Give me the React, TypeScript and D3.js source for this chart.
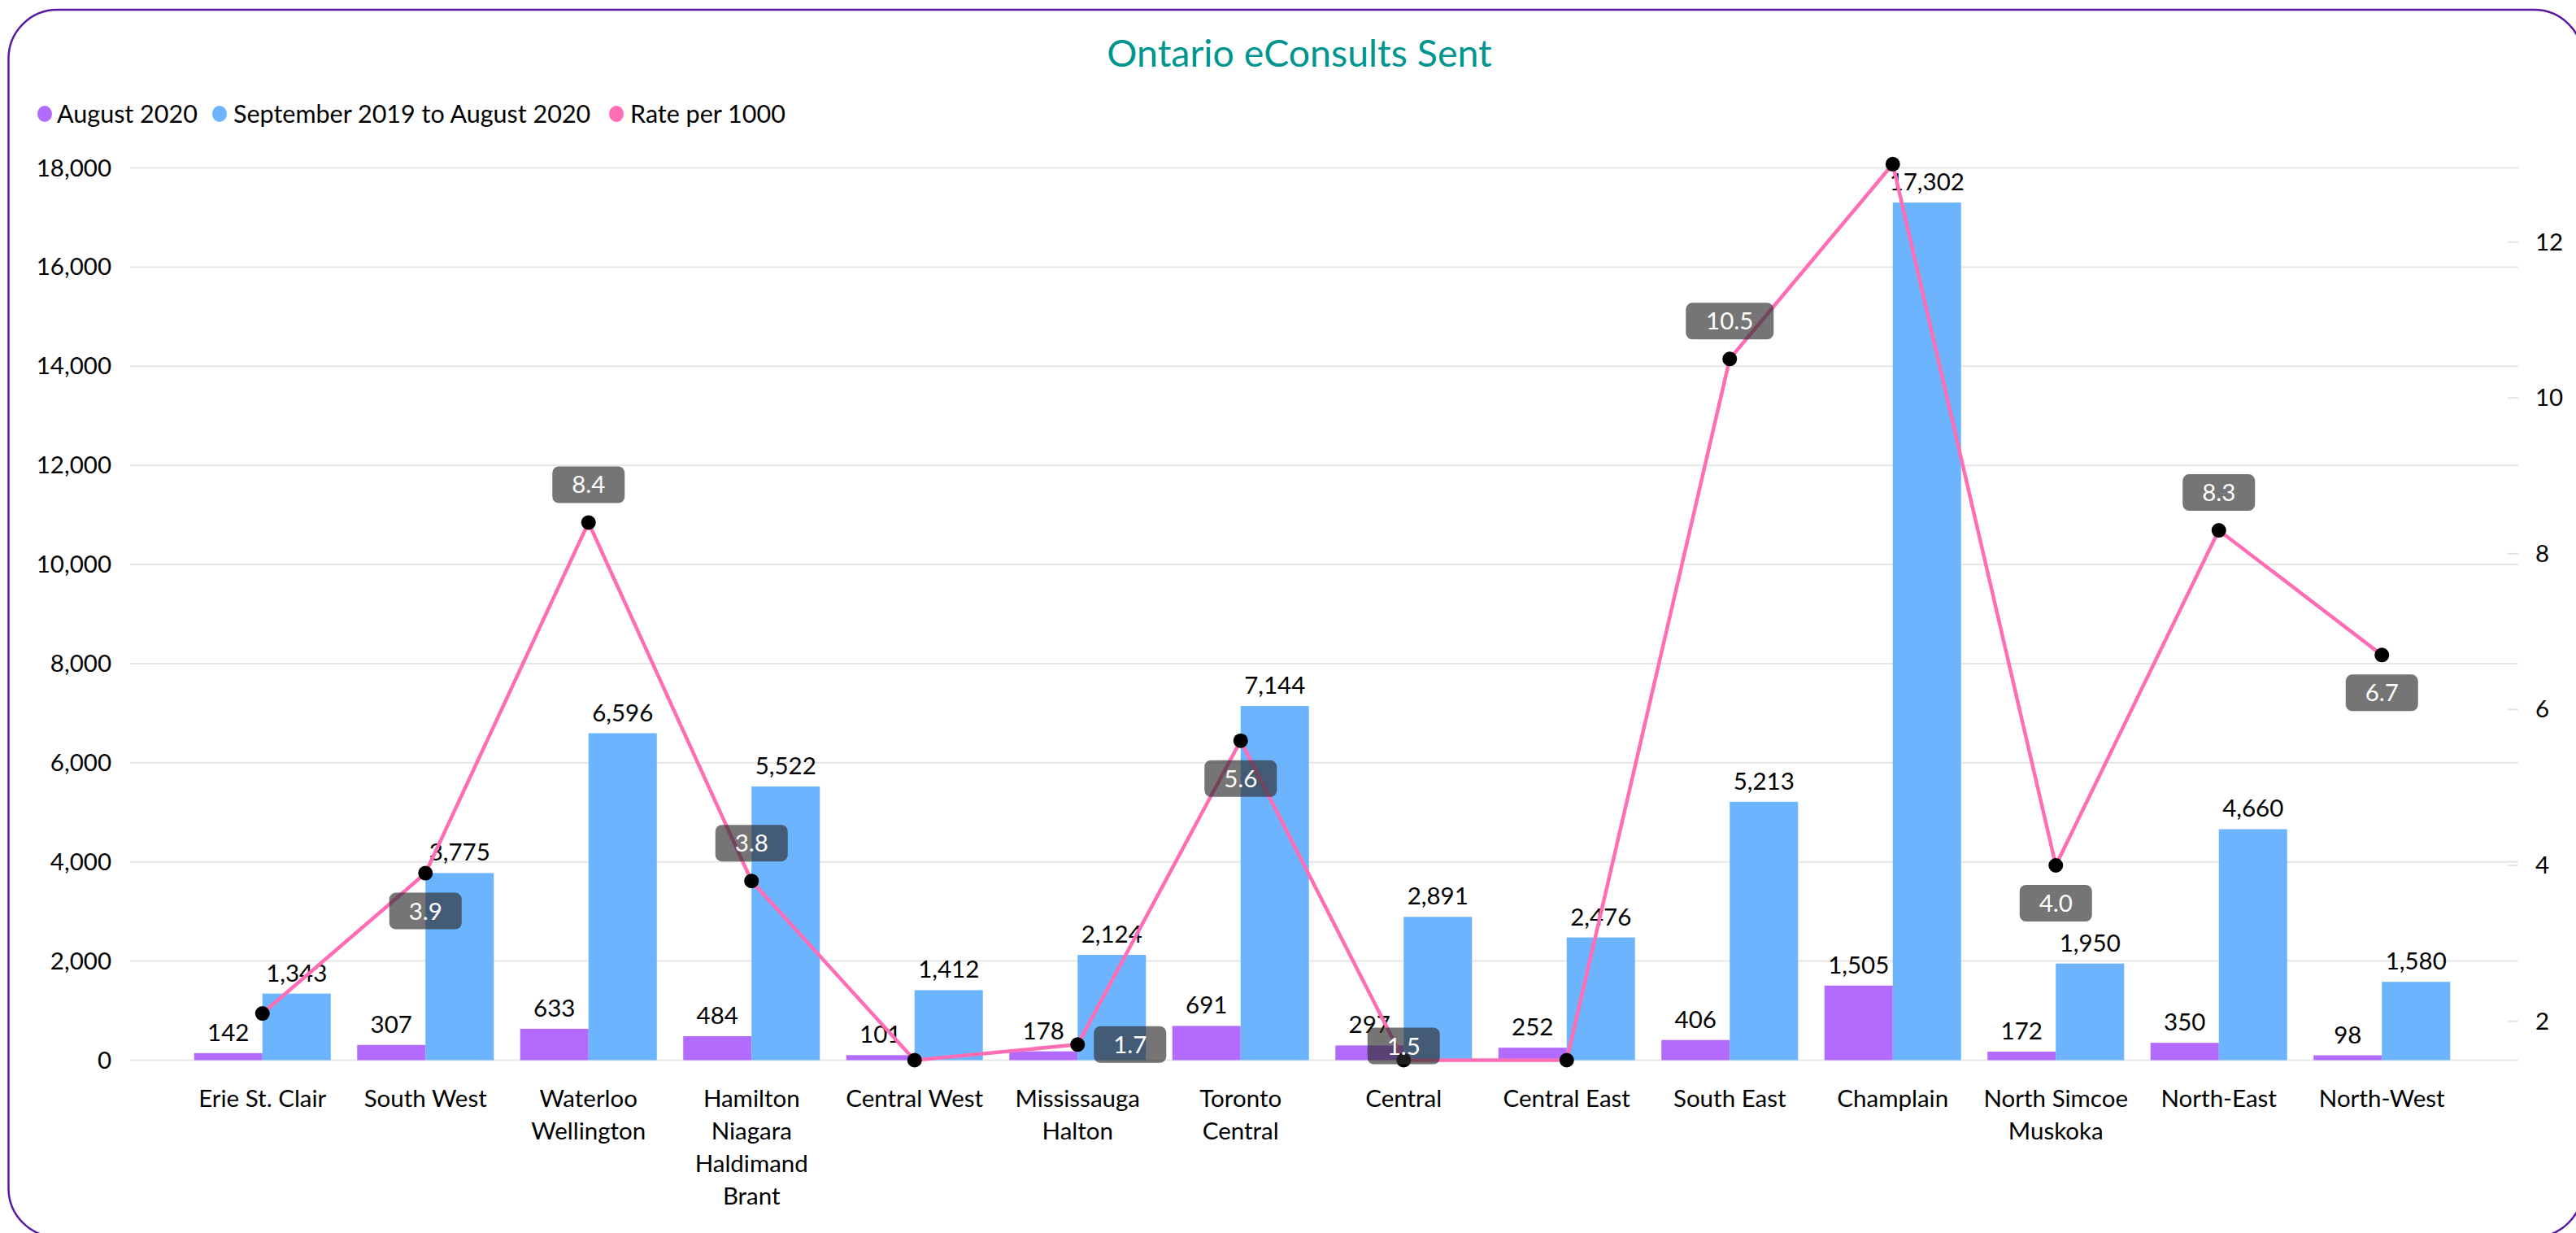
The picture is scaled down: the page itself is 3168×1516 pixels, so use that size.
import React from "react";
import * as d3 from "d3";

const categories = [
  "Erie St. Clair",
  "South West",
  "Waterloo Wellington",
  "Hamilton Niagara Haldimand Brant",
  "Central West",
  "Mississauga Halton",
  "Toronto Central",
  "Central",
  "Central East",
  "South East",
  "Champlain",
  "North Simcoe Muskoka",
  "North-East",
  "North-West",
];
const categoryLines = [
  ["Erie St. Clair"],
  ["South West"],
  ["Waterloo", "Wellington"],
  ["Hamilton", "Niagara", "Haldimand", "Brant"],
  ["Central West"],
  ["Mississauga", "Halton"],
  ["Toronto", "Central"],
  ["Central"],
  ["Central East"],
  ["South East"],
  ["Champlain"],
  ["North Simcoe", "Muskoka"],
  ["North-East"],
  ["North-West"],
];
const august2020 = [142, 307, 633, 484, 101, 178, 691, 297, 252, 406, 1505, 172, 350, 98];
const sep2019ToAug2020 = [1343, 3775, 6596, 5522, 1412, 2124, 7144, 2891, 2476, 5213, 17302, 1950, 4660, 1580];
const ratePer1000 = [2.1, 3.9, 8.4, 3.8, 1.5, 1.7, 5.6, 1.5, 1.5, 10.5, 13.0, 4.0, 8.3, 6.7];
const rateLabelPlacement = ["none", "below", "above", "above", "none", "right", "below", "center", "none", "above", "none", "below", "above", "below"];
const leftTicks = [0, 2000, 4000, 6000, 8000, 10000, 12000, 14000, 16000, 18000];
const rightTicks = [2, 4, 6, 8, 10, 12];
const seriesNames = ["August 2020", "September 2019 to August 2020", "Rate per 1000"];

const W = 3168;
const H = 1516;
const FONT = "Lato, 'Noto Sans', sans-serif";
const PURPLE = "#b36bfd";
const BLUE = "#6cb4fe";
const PINK = "#ff6db4";
const TEAL = "#00968f";

export default function App() {
  const x = d3
    .scaleBand<string>()
    .domain(categories)
    .range([222.5, 3029.5])
    .paddingInner(0.162)
    .paddingOuter(0.081);
  const xs = d3.scaleBand<string>().domain(["a", "b"]).range([0, x.bandwidth()]);
  const y = d3.scaleLinear().domain([0, 18000]).range([1303.5, 206.5]);
  const y2 = d3.scaleLinear().domain([1.5, 13]).range([1303.5, 1303.5 - 11.5 * 95.8]);
  const fmt = d3.format(",");
  const gridX0 = 160;
  const gridX1 = 3097;

  const linePts: [number, number][] = categories.map((c, i) => [
    (x(c) as number) + x.bandwidth() / 2,
    y2(ratePer1000[i]),
  ]);
  const line = d3.line()(linePts) as string;

  const legendItems = [
    { name: seriesNames[0], color: PURPLE, cx: 55, tx: 70 },
    { name: seriesNames[1], color: BLUE, cx: 270, tx: 287 },
    { name: seriesNames[2], color: PINK, cx: 758, tx: 775 },
  ];

  return (
    <svg
      width={W}
      height={H}
      style={{ position: "fixed", left: 0, top: 0, background: "#fff" }}
      fontFamily={FONT}
    >
      <rect x={0} y={0} width={W} height={H} fill="#fff" />
      <rect x={10.5} y={12} width={3166} height={1509} rx={60} ry={60} fill="none" stroke="#5a1aa0" strokeWidth={2.5} />

      <text x={1598} y={82} textAnchor="middle" fontSize={46.5} fill={TEAL}>
        Ontario eConsults Sent
      </text>

      {legendItems.map((l) => (
        <g key={l.name}>
          <ellipse cx={l.cx} cy={140} rx={9} ry={10} fill={l.color} />
          <text x={l.tx} y={151} fontSize={30.5} fill="#000">
            {l.name}
          </text>
        </g>
      ))}

      {leftTicks.map((t) => (
        <g key={"g" + t}>
          <line x1={gridX0} x2={gridX1} y1={y(t)} y2={y(t)} stroke="#e6e6e6" strokeWidth={2} />
          <text x={137} y={y(t) + 10} textAnchor="end" fontSize={29.5} fill="#000">
            {fmt(t)}
          </text>
        </g>
      ))}

      {rightTicks.map((t) => (
        <g key={"r" + t}>
          <line x1={3084} x2={gridX1} y1={y2(t)} y2={y2(t)} stroke="#e3e3e3" strokeWidth={2} />
          <text x={3118} y={y2(t) + 10} textAnchor="start" fontSize={29.5} fill="#000">
            {t}
          </text>
        </g>
      ))}

      {categories.map((c, i) => {
        const x0 = x(c) as number;
        const pa = y(august2020[i]);
        const pb = y(sep2019ToAug2020[i]);
        const cx = x0 + x.bandwidth() / 2;
        return (
          <g key={c}>
            <rect x={x0 + (xs("a") as number)} y={pa} width={xs.bandwidth()} height={y(0) - pa} fill={PURPLE} />
            <rect x={x0 + (xs("b") as number)} y={pb} width={xs.bandwidth()} height={y(0) - pb} fill={BLUE} />
            <text x={x0 + (xs("a") as number) + xs.bandwidth() / 2} y={pa - 15} textAnchor="middle" fontSize={29.5} fill="#000">
              {fmt(august2020[i])}
            </text>
            <text x={x0 + (xs("b") as number) + xs.bandwidth() / 2} y={pb - 15} textAnchor="middle" fontSize={29.5} fill="#000">
              {fmt(sep2019ToAug2020[i])}
            </text>
            {categoryLines[i].map((ln, k) => (
              <text key={k} x={cx} y={1361 + k * 40} textAnchor="middle" fontSize={29.5} fill="#000">
                {ln}
              </text>
            ))}
          </g>
        );
      })}

      <path d={line} fill="none" stroke={PINK} strokeWidth={4.5} strokeLinejoin="round" />
      {linePts.map(([px, py], i) => (
        <circle key={"p" + i} cx={px} cy={py} r={9} fill="#000" />
      ))}

      {linePts.map(([px, py], i) => {
        const pos = rateLabelPlacement[i];
        if (pos === "none") return null;
        const label = ratePer1000[i].toFixed(1);
        const bw = 32 + 19 * label.length;
        const bh = 45;
        let bx = px - bw / 2;
        let by = py - bh / 2;
        if (pos === "below") by = py + 24;
        if (pos === "above") by = py - 24 - bh;
        if (pos === "right") bx = px + 20;
        if (pos === "center") by = Math.min(by, y(0) + 5 - bh);
        return (
          <g key={"l" + i}>
            <rect x={bx} y={by} width={bw} height={bh} rx={8} ry={8} fill="rgb(45,45,45)" fillOpacity={0.66} />
            <text x={bx + bw / 2} y={by + bh / 2 + 10.5} textAnchor="middle" fontSize={29.5} fill="#fff">
              {label}
            </text>
          </g>
        );
      })}
    </svg>
  );
}
